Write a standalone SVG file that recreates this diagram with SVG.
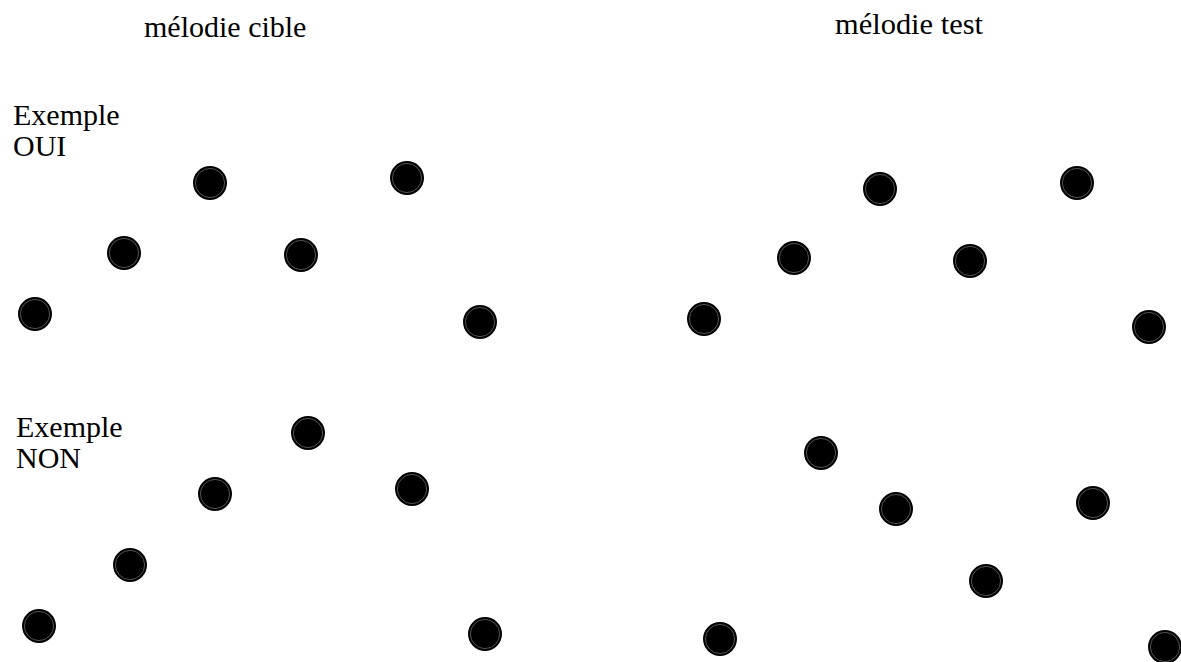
<svg xmlns="http://www.w3.org/2000/svg" width="1181" height="662" viewBox="0 0 1181 662">
<style>
  text { font-family: "Liberation Serif", "Times New Roman", serif; font-size: 30px; fill: #000; }
  .dot-outer { fill: #000; }
  .dot-ring { fill: none; stroke: #777; stroke-width: 0.7; }
</style>
<defs>
  <g id="dot">
    <circle class="dot-outer" r="17"/>
    <circle class="dot-ring" r="14.6"/>
  </g>
</defs>
<rect width="1181" height="662" fill="#fff"/>
<g id="labels">
  <text x="144" y="37">mélodie cible</text>
  <text x="835" y="34" textLength="148" lengthAdjust="spacingAndGlyphs">mélodie test</text>
  <text x="13" y="125">Exemple</text>
  <text x="13" y="156">OUI</text>
  <text x="16" y="437">Exemple</text>
  <text x="16" y="468">NON</text>
</g>
<g id="oui-cible">
  <use href="#dot" x="35" y="314"/>
  <use href="#dot" x="124" y="253"/>
  <use href="#dot" x="210" y="183"/>
  <use href="#dot" x="301" y="255"/>
  <use href="#dot" x="407" y="178"/>
  <use href="#dot" x="480" y="322"/>
</g>
<g id="oui-test">
  <use href="#dot" x="704" y="319"/>
  <use href="#dot" x="794" y="258"/>
  <use href="#dot" x="880" y="189"/>
  <use href="#dot" x="970" y="261"/>
  <use href="#dot" x="1077" y="183"/>
  <use href="#dot" x="1149" y="327"/>
</g>
<g id="non-cible">
  <use href="#dot" x="39" y="626"/>
  <use href="#dot" x="130" y="565"/>
  <use href="#dot" x="215" y="494"/>
  <use href="#dot" x="308" y="433"/>
  <use href="#dot" x="412" y="489"/>
  <use href="#dot" x="485" y="634"/>
</g>
<g id="non-test">
  <use href="#dot" x="720" y="639"/>
  <use href="#dot" x="821" y="453"/>
  <use href="#dot" x="896" y="509"/>
  <use href="#dot" x="986" y="581"/>
  <use href="#dot" x="1093" y="503"/>
  <use href="#dot" x="1165" y="647"/>
</g>
<g id="connectors"></g>
</svg>
